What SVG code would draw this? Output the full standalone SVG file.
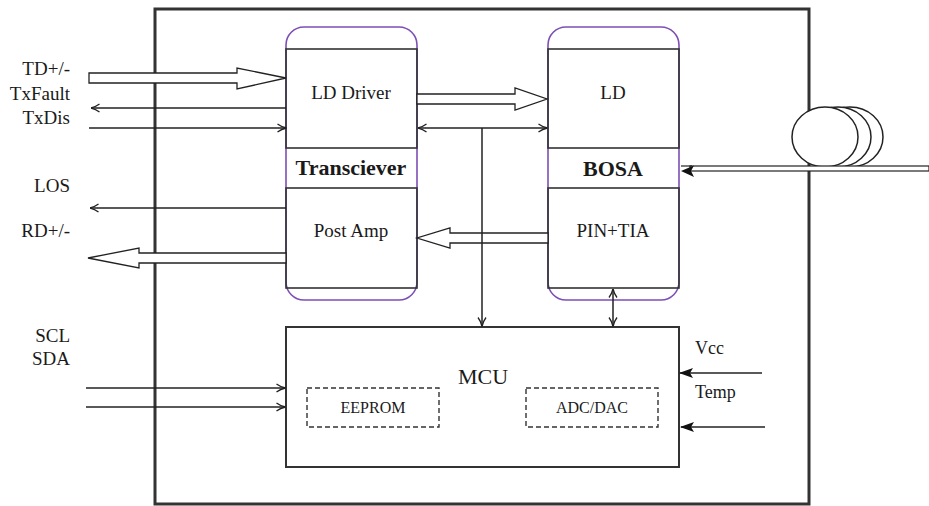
<svg xmlns="http://www.w3.org/2000/svg" width="929" height="506" viewBox="0 0 929 506">
<style>
.t{font-family:"Liberation Serif","Times New Roman",serif;fill:#1a1a1a;font-size:19px}
.b{font-weight:bold;font-size:22px}
.s{font-size:16px}
.ln{stroke:#222;stroke-width:1.5;fill:none}
.blk{fill:#fff;stroke:#222;stroke-width:1.3}
.pur{fill:#fff;stroke:#7d4fb5;stroke-width:1.6}
.box{fill:none;stroke:#333;stroke-width:1.6}
.dash{fill:none;stroke:#333;stroke-width:1.4;stroke-dasharray:5 3}
</style>
<defs>
<marker id="oa" viewBox="0 0 10 10" refX="9.5" refY="5" markerWidth="10" markerHeight="10" markerUnits="userSpaceOnUse" orient="auto-start-reverse">
<path d="M1,1 Q5,4 10,5 Q5,6 1,9" fill="none" stroke="#222" stroke-width="1.3"/>
</marker>
<marker id="fa" viewBox="0 0 14 12" refX="13" refY="6" markerWidth="14" markerHeight="12" markerUnits="userSpaceOnUse" orient="auto">
<path d="M0,1 L14,6 L0,11 L3,6 z" fill="#111"/>
</marker>
</defs>

<rect x="155" y="9" width="654" height="495" fill="none" stroke="#333" stroke-width="3"/>

<g id="transceiver">
<rect class="pur" x="286" y="27" width="131" height="273" rx="18"/>
<rect class="box" x="286" y="49" width="131" height="99"/>
<rect class="box" x="286" y="188" width="131" height="100"/>
<text class="t" x="351" y="99" text-anchor="middle">LD Driver</text>
<text class="t b" x="351" y="175" text-anchor="middle">Transciever</text>
<text class="t" x="351" y="237" text-anchor="middle">Post Amp</text>
</g>

<g id="bosa">
<rect class="pur" x="548" y="27" width="131" height="273" rx="18"/>
<rect class="box" x="548" y="49" width="131" height="99"/>
<rect class="box" x="548" y="188" width="131" height="100"/>
<text class="t" x="613" y="99" text-anchor="middle">LD</text>
<text class="t b" x="613" y="176" text-anchor="middle">BOSA</text>
<text class="t" x="613" y="237" text-anchor="middle">PIN+TIA</text>
</g>

<g id="mcu">
<rect x="286" y="327" width="393" height="140" fill="#fff" stroke="#333" stroke-width="2"/>
<text class="t" x="483" y="384" text-anchor="middle" font-size="22" style="font-size:22px">MCU</text>
<rect class="dash" x="307" y="388" width="132" height="39"/>
<text class="t s" x="373" y="413" text-anchor="middle">EEPROM</text>
<rect class="dash" x="526" y="388" width="132" height="39"/>
<text class="t s" x="592" y="413" text-anchor="middle">ADC/DAC</text>
</g>

<g id="fiber">
<ellipse cx="850" cy="137" rx="33" ry="30" fill="#fff" stroke="#222" stroke-width="1.5"/>
<ellipse cx="838" cy="137" rx="33" ry="30" fill="#fff" stroke="#222" stroke-width="1.5"/>
<ellipse cx="825" cy="137" rx="33" ry="30" fill="#fff" stroke="#222" stroke-width="1.5"/>
<rect x="690" y="166" width="239" height="5" fill="#fff" stroke="#222" stroke-width="1.2"/>
<line x1="681" y1="166" x2="692" y2="166" stroke="#222" stroke-width="1.2"/>
<path d="M681,171 L694,165.5 L691,171 L694,177 z" fill="#111"/>
</g>

<g id="labels">
<text class="t" x="70" y="75" text-anchor="end">TD+/-</text>
<text class="t" x="70" y="100" text-anchor="end">TxFault</text>
<text class="t" x="70" y="124" text-anchor="end">TxDis</text>
<text class="t" x="70" y="192" text-anchor="end">LOS</text>
<text class="t" x="70" y="237" text-anchor="end">RD+/-</text>
<text class="t" x="70" y="342" text-anchor="end">SCL</text>
<text class="t" x="70" y="365" text-anchor="end">SDA</text>
<text class="t" x="695" y="354" style="font-size:18px">Vcc</text>
<text class="t" x="695" y="398" style="font-size:18px">Temp</text>
</g>

<g id="connectors">
<polygon class="blk" points="89,73 237,73 237,68 286,78 237,89 237,83 89,83"/>
<line class="ln" x1="286" y1="108" x2="91" y2="108" marker-end="url(#oa)"/>
<line class="ln" x1="89" y1="128" x2="286" y2="128" marker-end="url(#oa)"/>
<line class="ln" x1="286" y1="208" x2="90" y2="208" marker-end="url(#oa)"/>
<polygon class="blk" points="286,253 139,253 139,248 88,258 139,268 139,263 286,263"/>
<polygon class="blk" points="417,94 515,94 515,88 547,99 515,110 515,104 417,104"/>
<polygon class="blk" points="548,233 450,233 450,228 417,238 450,248 450,243 548,243"/>
<line class="ln" x1="418" y1="128" x2="547" y2="128" marker-start="url(#oa)" marker-end="url(#oa)"/>
<line class="ln" x1="482" y1="128" x2="482" y2="326" marker-end="url(#oa)"/>
<line class="ln" x1="613" y1="289" x2="613" y2="326" marker-start="url(#oa)" marker-end="url(#oa)"/>
<line class="ln" x1="86" y1="388" x2="285" y2="388" marker-end="url(#oa)"/>
<line class="ln" x1="86" y1="407" x2="285" y2="407" marker-end="url(#oa)"/>
<line class="ln" x1="762" y1="373" x2="680" y2="373" marker-end="url(#fa)"/>
<line class="ln" x1="765" y1="427" x2="681" y2="427" marker-end="url(#fa)"/>
</g>
</svg>
